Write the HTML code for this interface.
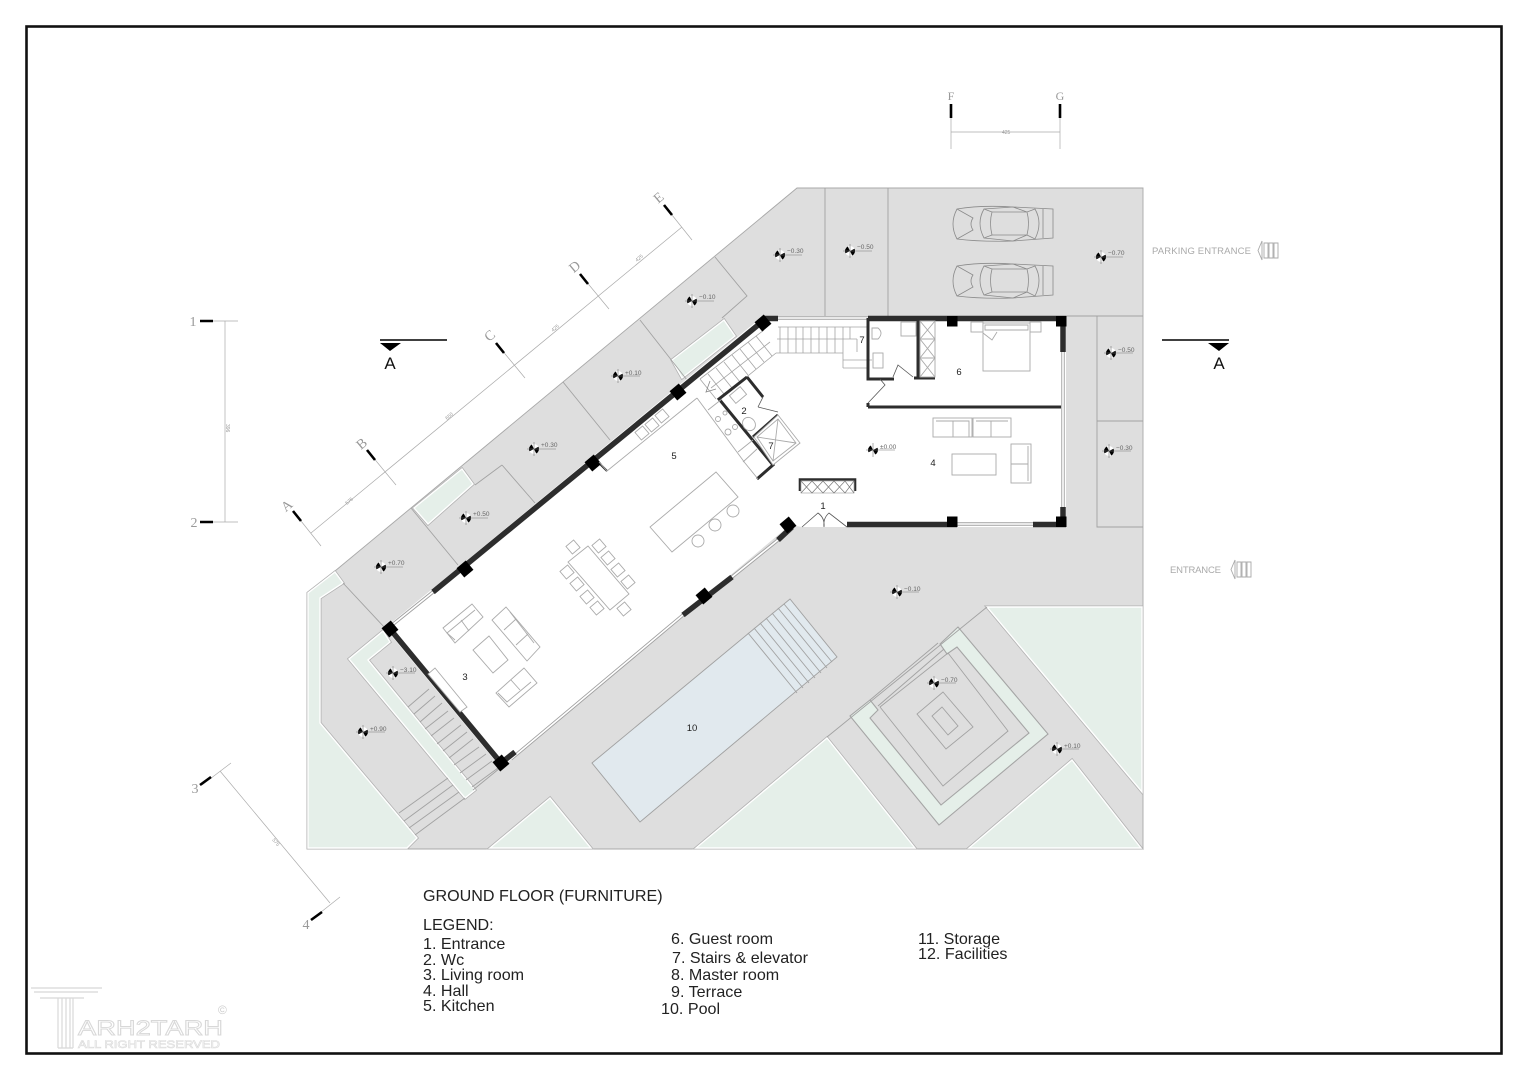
<!DOCTYPE html>
<html><head><meta charset="utf-8"><style>
html,body{margin:0;padding:0;background:#fff}
svg{display:block}
text{font-family:"Liberation Sans",sans-serif}
.t{font-size:16.1px;fill:#222}
.n{font-size:9.5px;fill:#222;text-anchor:middle}
.lv{font-size:6.5px;fill:#666}
.ax{font-family:"Liberation Serif",serif;font-size:14px;fill:#999;text-anchor:middle}
.th{fill:none;stroke:#a5a5a5;stroke-width:.8}
.fu{fill:#fff;stroke:#aaa;stroke-width:.9}
.gl{fill:none;stroke:#a2a2a2;stroke-width:.9}
.wl{stroke:#2d2d2d;stroke-width:5.5;fill:none}
.wt{stroke:#2d2d2d;stroke-width:3;fill:none}
.g1{fill:none;stroke:#b2b2b2;stroke-width:3}
.g2{fill:#e5efe9;stroke:#fff;stroke-width:1.4}
</style></head><body>
<svg width="1527" height="1080" viewBox="0 0 1527 1080" xmlns="http://www.w3.org/2000/svg">
<defs>
<g id="m"><circle r="5" fill="#fff"/><path d="M0,0L-2.2,-4.5A5,5 0 0 0 -4.5,2.2ZM0,0L2.2,4.5A5,5 0 0 0 4.5,-2.2Z" fill="#000"/><path d="M-7,0H22M0,-7V7" stroke="#777" stroke-width=".6" fill="none"/></g>
<g id="car" fill="none" stroke="#8a8a8a" stroke-width=".8">
<path d="M102,3V32L62,35Q30,36 6,33Q-2,18 6,3Q30,-1 62,1Z" fill="#dedede"/>
<path d="M33,3Q25,17 33,32L41,29Q38,17 41,6Z"/><path d="M76,6Q79,17 76,29L84,33Q92,17 84,3Z"/>
<path d="M41,6H76M41,29H76M6,3L22,12Q18,18 22,24L6,33M62,1L76,6M62,35L76,29M33,3L62,1M33,32L62,35M92,3V32"/>
</g>
<polygon id="gA" points="308,848 308,593 335,572 343,583 320,598 320,723 417,838 407,848"/>
<polygon id="gB" points="383,631 349,659 465,798 475,790 368,660 390,642"/>
<polygon id="gC" points="550,798 490,848 591,848"/>
<polygon id="gD" points="827,738 696,848 915,848"/>
<polygon id="gE" points="1072,760 969,848 1141,848"/>
<polygon id="gF" points="987,607 1142,607 1142,792"/>
<polygon id="gH" points="462,469 473,484 428,524 414,508"/>
<polygon id="gI" points="724,320 735,336 682,378 672,360"/>
</defs>

<rect x="26.500" y="26.500" width="1475" height="1027" fill="#fff" stroke="#111" stroke-width="2.600"/>

<!-- site -->
<polygon points="797,188 1143,188 1143,849 307,849 307,593 335,571" fill="#dedede" stroke="#a8a8a8" stroke-width=".9"/>

<!-- green areas -->
<use href="#gA" class="g1"/><use href="#gA" class="g2"/>
<use href="#gB" class="g1"/><use href="#gB" class="g2"/>
<use href="#gC" class="g1"/><use href="#gC" class="g2"/>
<use href="#gD" class="g1"/><use href="#gD" class="g2"/>
<use href="#gE" class="g1"/><use href="#gE" class="g2"/>
<use href="#gF" class="g1"/><use href="#gF" class="g2"/>
<use href="#gH" class="g1"/><use href="#gH" class="g2"/>
<use href="#gI" class="g1"/><use href="#gI" class="g2"/>
<polygon points="940,644 958,627 1048,734 939,825 850,716 870,700 878,710 870,718 941,805 1029,733 957,647 947,654" fill="#e5efe9" stroke="#a5a5a5" stroke-width="1.1"/>

<!-- site dividers -->
<g class="gl">
<path d="M825,188V316M888,188V316M1066,316H1143M1097,316V527H1143M1097,421H1143"/>
<path d="M715,257L747,296L722,318M640,320L687,380M563,382L610,440M502,465L535,503M502,465L475,485M411,508L458,565M343,583L385,628"/>
<path d="M938,643L870,700M944,649L878,706M948,653L1008,731L943,786L880,707Z"/>
<path d="M943,692L973,727L946,749L917,714Z"/>
<path d="M942,707L958,726L948,735L932,716Z"/>
<path d="M987,607L827,737"/>
</g>

<!-- pool -->
<polygon points="592,763 790,599 837,657 640,822" fill="#e1e9ee" stroke="#a0a0a0" stroke-width=".9"/>
<path class="gl" d="M748,633L797,693M754,628L803,688M760,623L809,683M766,618L815,678M772,613L821,673M778,608L827,668M784,604L832,662"/>

<!-- lower stairs -->
<g class="gl">
<path d="M408,707L429,689M414,714L435,696M420,722L442,703M425,729L448,711M431,736L454,718M437,744L461,725M443,751L467,732M449,758L473,739M454,765L479,747M460,773L486,754M466,780L492,761M472,787L498,768"/>
<path d="M448,778L399,813M453,785L404,821M459,792L409,828M465,798L415,835M473,790L500,768"/>
</g>

<!-- building -->
<polygon points="763,316 1066,316 1066,527 802,527 790,525 501,768 385,628" fill="#fff"/>

<!-- stairs -->
<g class="th">
<path d="M778,327H868M777,339H857M776,353H843M780,327V353M788,327V353M796,327V353M803,327V353M811,327V353M819,327V353M827,327V353M835,327V353M843,327V368M850,327V339M857,339V352M843,368H868M843,360H872"/>
<path d="M764,330L700,379M776,353L722,397M770,342L711,388"/>
<path d="M756,336L772,356M748,342L764,362M740,349L756,369M732,355L748,375M724,362L740,382M716,368L732,388M708,374L724,394M700,379L716,399"/>
<path d="M710,381L706,392L716,389" stroke="#888"/>
</g>

<!-- windows -->
<g fill="none">
<path stroke="#a0a0a0" stroke-width="3.400" d="M392,625L433,592M511,759L683,615M732,577L778,540M778,318H868M1063,352V507M957,524H1034"/>
<path stroke="#fff" stroke-width="1.600" d="M392,625L433,592M511,759L683,615M732,577L778,540M778,318H868M1063,352V507M957,524H1034"/>
</g>

<!-- walls -->
<g class="wl">
<path d="M433,592L763,321M390,629L501,763M501,763L515,752M683,615L732,577M778,540L792,527"/>
<path d="M763,318.500H778M868,318.500H1066M1063,316V352M1063,507V527M847,524.500H957M1033,524.500H1066"/>
</g>
<g class="wt">
<path d="M868,318V379H894M914,378H935M918,320V378M868,407H1061M868,403V407"/>
<path d="M747,377L719,399L773,465L757,479M747,377L763,397M753,437L778,415"/>
<path d="M800,491V479.500H855V491" stroke-width="2.600"/>
<path d="M598,462L607,471" stroke-width="2"/>
</g>

<!-- columns -->
<g fill="#000">
<rect x="947" y="316" width="10.500" height="10.500"/><rect x="1056" y="316" width="10.500" height="10.500"/>
<rect x="947" y="516.500" width="10.500" height="10.500"/><rect x="1056" y="516.500" width="10.500" height="10.500"/>
<rect x="-6" y="-6" width="12" height="12" transform="translate(763,323) rotate(-40)"/>
<rect x="-6" y="-6" width="12" height="12" transform="translate(788,525) rotate(-40)"/>
<rect x="-6" y="-6" width="12" height="12" transform="translate(390,629) rotate(-40)"/>
<rect x="-6" y="-6" width="12" height="12" transform="translate(501,763) rotate(-40)"/>
<rect x="-6" y="-6" width="12" height="12" transform="translate(704,596) rotate(-40)"/>
<rect x="-6" y="-6" width="12" height="12" transform="translate(465,569) rotate(-40)"/>
<rect x="-6" y="-6" width="12" height="12" transform="translate(593,463) rotate(-40)"/>
<rect x="-6" y="-6" width="12" height="12" transform="translate(678,392) rotate(-40)"/>
</g>

<!-- WC / rooms fixtures -->
<g class="fu">
<path d="M872,328H878Q884,333 878,339H872Z"/>
<rect x="901" y="322" width="15" height="14"/>
<rect x="873" y="353" width="10" height="15"/>
<rect x="920" y="321" width="15" height="56"/>
<path d="M920,321L935,339L920,358L935,377M935,321L920,339L935,358L920,377M920,339H935M920,358H935" fill="none"/>
<rect x="971" y="322" width="12" height="10"/><rect x="1030" y="322" width="11" height="10"/>
<rect x="983" y="323" width="47" height="48"/>
<path d="M985,325H1028V330H985ZM983,333L992,340L997,332" fill="none"/>
<rect x="933" y="418" width="39" height="19"/><rect x="973" y="418" width="38" height="19"/>
<path d="M936,421H969V437M953,421V437M976,421H1008M991,421V437" fill="none"/>
<rect x="952" y="454" width="44" height="21"/>
<rect x="1011" y="444" width="20" height="39"/>
<path d="M1028,446V481M1011,464H1028" fill="none"/>
<rect x="801" y="481" width="53" height="12" stroke-width=".7"/>
<path d="M801,481L812,493L823,481L834,493L845,481L854,493M801,493L812,481L823,493L834,481L845,493L854,481" fill="none" stroke="#777" stroke-width=".7"/>
</g>

<!-- doors -->
<g fill="none" stroke="#555" stroke-width=".8">
<path d="M893,377L898,365L913,377M868,403L885,385L880,379M758,407L778,412M763,397L758,407"/>
<path d="M802,527L818,513Q825,518 824,527M847,527L829,513Q823,518 824,527"/>
</g>

<!-- WC2 / kitchen / elevator -->
<g class="fu">
<polygon points="754,437 778,415 800,443 773,465"/>
<path d="M757,437L778,419L796,443L773,461ZM757,437L796,443M778,419L773,461" fill="none"/>
<rect x="-7" y="-5" width="14" height="10" transform="translate(738,395) rotate(-40)"/>
<ellipse cx="749" cy="424" rx="6" ry="7" transform="rotate(-40 749 424)"/>
<path d="M697,398L745,463L758,479" fill="none"/>
<path d="M743,462L757,449" fill="none"/>
<path d="M697,398L607,471L599,462" fill="none"/>
<path d="M708,410L722,399M738,452L753,440" fill="none"/>
<circle cx="718" cy="419" r="2.500"/><circle cx="725" cy="413" r="2"/><circle cx="728" cy="432" r="3"/><circle cx="735" cy="427" r="2.500"/>
<rect x="-5" y="-5" width="10" height="10" transform="translate(642,433) rotate(-40)"/>
<rect x="-5" y="-5" width="10" height="10" transform="translate(652,425) rotate(-40)"/>
<rect x="-5" y="-5" width="10" height="10" transform="translate(662,416) rotate(-40)"/>
<!-- island -->
<polygon points="650,527 672,552 738,497 716,472"/>
<circle cx="698" cy="541" r="6"/><circle cx="715" cy="525" r="6"/><circle cx="733" cy="511" r="6"/>
<!-- dining -->
<polygon points="588,546 568,562 610,610 629,594"/>
<g>
<rect x="-5" y="-5" width="10" height="10" transform="translate(573,547) rotate(-40)"/>
<rect x="-5" y="-5" width="10" height="10" transform="translate(599,546) rotate(-40)"/>
<rect x="-5" y="-5" width="10" height="10" transform="translate(608,558) rotate(-40)"/>
<rect x="-5" y="-5" width="10" height="10" transform="translate(618,570) rotate(-40)"/>
<rect x="-5" y="-5" width="10" height="10" transform="translate(628,582) rotate(-40)"/>
<rect x="-5" y="-5" width="10" height="10" transform="translate(567,572) rotate(-40)"/>
<rect x="-5" y="-5" width="10" height="10" transform="translate(577,584) rotate(-40)"/>
<rect x="-5" y="-5" width="10" height="10" transform="translate(587,597) rotate(-40)"/>
<rect x="-5" y="-5" width="10" height="10" transform="translate(597,608) rotate(-40)"/>
<rect x="-5" y="-5" width="10" height="10" transform="translate(624,609) rotate(-40)"/>
</g>
<!-- living -->
<polygon points="489,636 473,650 493,673 508,660"/>
<polygon points="472,604 483,617 455,643 443,628"/>
<path d="M475,610L447,633L455,640M461,620L469,631" fill="none"/>
<polygon points="506,607 540,647 527,661 492,620"/>
<path d="M510,612L534,643M504,630L516,619M516,645L528,634" fill="none"/>
<polygon points="524,668 537,683 509,707 496,693"/>
<path d="M531,682L507,702L498,693M511,680L520,690" fill="none"/>
<polygon points="435,668 467,707 460,712 428,674"/>
</g>

<!-- cars -->
<use href="#car" x="951" y="206"/>
<use href="#car" x="951" y="263"/>

<!-- level markers -->
<g>
<use href="#m" x="780" y="255"/><text class="lv" x="787" y="253">−0.30</text>
<use href="#m" x="850" y="251"/><text class="lv" x="857" y="249">−0.50</text>
<use href="#m" x="1101" y="257"/><text class="lv" x="1108" y="255">−0.70</text>
<use href="#m" x="692" y="301"/><text class="lv" x="699" y="299">−0.10</text>
<use href="#m" x="618" y="376"/><text class="lv" x="625" y="375">+0.10</text>
<use href="#m" x="534" y="449"/><text class="lv" x="541" y="447">+0.30</text>
<use href="#m" x="466" y="518"/><text class="lv" x="473" y="516">+0.50</text>
<use href="#m" x="381" y="567"/><text class="lv" x="388" y="565">+0.70</text>
<use href="#m" x="393" y="673"/><text class="lv" x="400" y="672">−3.10</text>
<use href="#m" x="363" y="732"/><text class="lv" x="370" y="731">+0.90</text>
<use href="#m" x="873" y="450"/><text class="lv" x="880" y="449">±0.00</text>
<use href="#m" x="1111" y="353"/><text class="lv" x="1118" y="352">−0.50</text>
<use href="#m" x="1109" y="451"/><text class="lv" x="1116" y="450">−0.30</text>
<use href="#m" x="897" y="592"/><text class="lv" x="904" y="591">−0.10</text>
<use href="#m" x="934" y="683"/><text class="lv" x="941" y="682">−0.70</text>
<use href="#m" x="1057" y="749"/><text class="lv" x="1064" y="748">+0.10</text>
</g>

<!-- room numbers -->
<text class="n" x="823" y="509">1</text><text class="n" x="744" y="414">2</text>
<text class="n" x="465" y="680">3</text><text class="n" x="933" y="466">4</text>
<text class="n" x="674" y="459">5</text><text class="n" x="959" y="375">6</text>
<text class="n" x="862" y="343">7</text><text class="n" x="771" y="449">7</text>
<text class="n" x="692" y="731">10</text>

<!-- grid dims -->
<g stroke="#aaa" stroke-width=".7" fill="none">
<path d="M213,321H238M213,522H238M225,321V522"/>
<path d="M951,118V149M1060,118V149M951,132H1060"/>
<path d="M311,533L682,227M293,511L321,546M367,450L396,485M496,343L525,378M580,274L609,309M664,205L692,240"/>
<path d="M202,785L231,763M311,920L340,897M220,771L330,903"/>
</g>
<g stroke="#000" stroke-width="2.600" fill="none">
<path d="M200,321H213M200,522H213M951,104V118M1060,104V118"/>
<path d="M293,511L301,521M367,450L375,460M496,343L504,353M580,274L588,284M664,205L672,215"/>
<path d="M200,785L211,777M311,920L322,912"/>
</g>
<g fill="#888">
<text class="ax" x="193" y="326">1</text><text class="ax" x="194" y="527">2</text>
<text class="ax" x="951" y="100" style="font-size:12px">F</text><text class="ax" x="1060" y="100" style="font-size:12px">G</text>
<text class="ax" transform="translate(287,506) rotate(-40)" y="4">A</text>
<text class="ax" transform="translate(362,444) rotate(-40)" y="4">B</text>
<text class="ax" transform="translate(490,336) rotate(-40)" y="4">C</text>
<text class="ax" transform="translate(575,267) rotate(-40)" y="4">D</text>
<text class="ax" transform="translate(659,198) rotate(-40)" y="4">E</text>
<text class="ax" x="195" y="793">3</text><text class="ax" x="306" y="929">4</text>
<g fill="#999">
<text x="1002" y="134" font-size="5">425</text>
<text transform="translate(226,424) rotate(90)" font-size="5">396</text>
<text transform="translate(347,505) rotate(-40)" font-size="5">575</text>
<text transform="translate(447,420) rotate(-40)" font-size="5">650</text>
<text transform="translate(553,332) rotate(-40)" font-size="5">425</text>
<text transform="translate(637,262) rotate(-40)" font-size="5">425</text>
<text transform="translate(272,840) rotate(50)" font-size="5">575</text>
</g>
</g>

<!-- section marks -->
<path d="M380,340H447M1162,340H1229" stroke="#000" stroke-width="1.600"/>
<path d="M380,343H401L390,351ZM1208,343H1229L1219,351Z" fill="#000"/>
<text x="390" y="369" text-anchor="middle" font-size="17" fill="#111">A</text>
<text x="1219" y="369" text-anchor="middle" font-size="17" fill="#111">A</text>

<!-- entrances -->
<text x="1152" y="254" font-size="9.500" textLength="99" fill="#aaa">PARKING ENTRANCE</text>
<text x="1170" y="573" font-size="9.500" textLength="51" fill="#aaa">ENTRANCE</text>
<g fill="none" stroke="#aaa" stroke-width=".9">
<path d="M1262,241L1258,250.500L1262,260ZM1264,243H1268V258H1264ZM1269,243H1273V258H1269ZM1274,243H1278V258H1274Z"/>
<path d="M1235,560L1231,569.500L1235,579ZM1237,562H1241V577H1237ZM1242,562H1246V577H1242ZM1247,562H1251V577H1247Z"/>
</g>

<!-- legend -->
<text class="t" x="423" y="901">GROUND FLOOR (FURNITURE)</text>
<text class="t" x="423" y="930">LEGEND:</text>
<text class="t" x="423" y="949">1. Entrance</text>
<text class="t" x="423" y="965">2. Wc</text>
<text class="t" x="423" y="980">3. Living room</text>
<text class="t" x="423" y="996">4. Hall</text>
<text class="t" x="423" y="1011">5. Kitchen</text>
<text class="t" x="671" y="944">6. Guest room</text>
<text class="t" x="672" y="963">7. Stairs &amp; elevator</text>
<text class="t" x="671" y="980">8. Master room</text>
<text class="t" x="671" y="997">9. Terrace</text>
<text class="t" x="661" y="1014">10. Pool</text>
<text class="t" x="918" y="944">11. Storage</text>
<text class="t" x="918" y="959">12. Facilities</text>

<!-- logo -->
<g fill="none" stroke="#d8d8d8" stroke-width="1.200">
<path d="M31,988H102M34,992H98M40,998H84M58,998V1048M62,998V1048M66,998V1048M70,998V1048M73,998V1048M58,1048H73"/>
</g>
<text x="218" y="1014" font-size="12" fill="#ccc">©</text>
<text x="78" y="1035" font-size="21" textLength="145" lengthAdjust="spacingAndGlyphs" fill="#fff" stroke="#d8d8d8" stroke-width=".9">ARH2TARH</text>
<text x="78" y="1048" font-size="11" textLength="142" lengthAdjust="spacingAndGlyphs" fill="#fff" stroke="#dadada" stroke-width=".6">ALL RIGHT RESERVED</text>
</svg>
</body></html>
